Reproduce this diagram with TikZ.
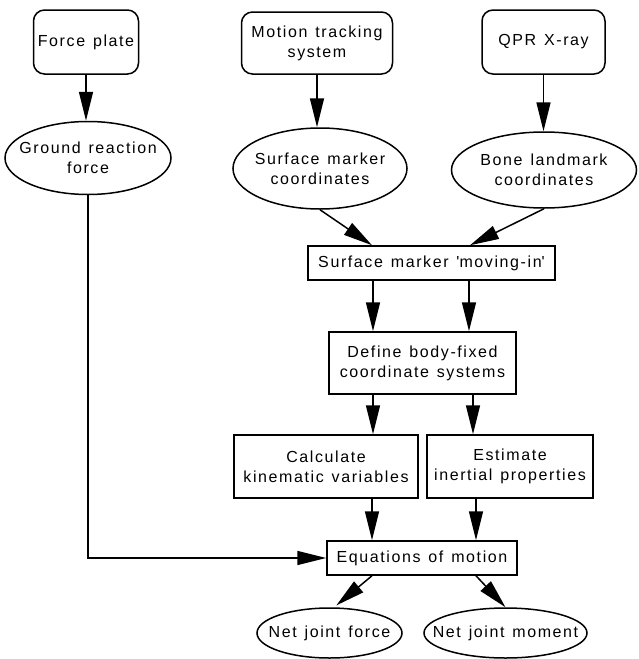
\documentclass[tikz,border=0pt]{standalone}
\usepackage{fontspec}
\setmainfont{Liberation Sans}[LetterSpace=10,WordSpace=1.3]
\usetikzlibrary{arrows.meta,shapes.geometric}
\begin{document}
\begin{tikzpicture}[x=1pt,y=-1pt, line width=1.5pt,
 rbox/.style={draw, rounded corners=11pt, align=center, inner sep=0pt},
 sbox/.style={draw, align=center, inner sep=0pt},
 oval/.style={draw, ellipse, inner sep=0pt},
 arr/.style={-{Triangle[length=29pt,width=14pt]}},
 font=\fontsize{16}{20}\selectfont]
\useasboundingbox (0,0) rectangle (638,659);

\node[rbox, minimum width=105pt, minimum height=64pt] (fp) at (86,42) {Force plate};
\node[oval, minimum width=166pt, minimum height=73pt, label={[align=center]center:Ground reaction\\force}] (grf) at (88,158) {};
\node[rbox, minimum width=151pt, minimum height=62pt] (mts) at (317,43) {Motion tracking\\system};
\node[oval, minimum width=174pt, minimum height=81pt, label={[align=center]center:Surface marker\\coordinates}] (smc) at (320,168.5) {};
\node[rbox, minimum width=123pt, minimum height=64pt] (qpr) at (543.5,42) {QPR X-ray};
\node[oval, minimum width=185pt, minimum height=76pt, label={[align=center]center:Bone landmark\\coordinates}] (blc) at (544,170) {};
\node[sbox, minimum width=247pt, minimum height=34pt] (mi) at (431.5,263) {Surface marker \textquotesingle moving-in\textquotesingle};
\node[sbox, minimum width=187pt, minimum height=62pt] (def) at (422.5,363) {Define body-fixed\\coordinate systems};
\node[sbox, minimum width=184pt, minimum height=63pt] (calc) at (326,466.5) {Calculate\\kinematic variables};
\node[sbox, minimum width=166pt, minimum height=63pt] (est) at (510,466.5) {Estimate\\inertial properties};
\node[sbox, minimum width=190pt, minimum height=34pt] (eq) at (422,558) {Equations of motion};
\node[oval, minimum width=145pt, minimum height=50pt, label=center:Net joint force] (njf) at (329.5,633) {};
\node[oval, minimum width=163pt, minimum height=50pt, label=center:Net joint moment] (njm) at (505.5,633) {};

\coordinate (xa) at (372,0);
\coordinate (xb) at (470,0);
\coordinate (xc) at (373,0);
\coordinate (xd) at (469,0);
\coordinate (xe) at (473,0);
\coordinate (xf) at (476,0);

\draw[arr] (fp.south) -- (fp.south |- grf.north);
\draw[arr] (grf.south) |- (eq.west);
\draw[arr] (mts.south) -- (mts.south |- smc.north);
\draw[arr] (qpr.south) -- (qpr.south |- blc.north);
\draw[arr] (smc.south) -- (mi.north -| xa);
\draw[arr] (blc.south) -- (mi.north -| xb);
\draw[arr] (mi.south -| xc) -- (def.north -| xc);
\draw[arr] (mi.south -| xd) -- (def.north -| xd);
\draw[arr] (def.south -| xc) -- (calc.north -| xc);
\draw[arr] (def.south -| xe) -- (calc.north -| xe);
\draw[arr] (calc.south -| xa) -- (eq.north -| xa);
\draw[arr] (est.south -| xf) -- (eq.north -| xf);
\draw[arr, shorten >=3pt] (eq.south -| xa) -- (njf.80);
\draw[arr] (eq.south -| xf) -- (njm.north);
\end{tikzpicture}
\end{document}
